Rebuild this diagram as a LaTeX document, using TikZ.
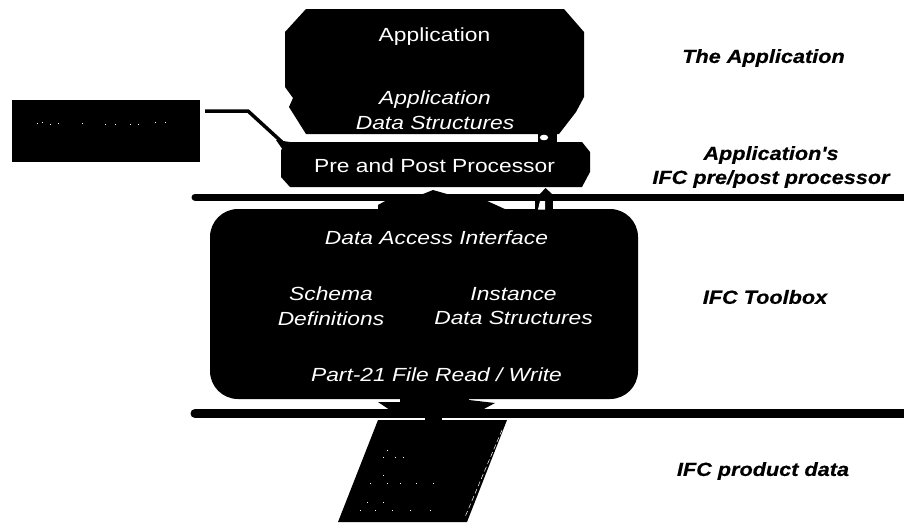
\documentclass[tikz,border=0pt]{standalone}
\usepackage{fontspec}
\setmainfont{Liberation Sans}
\newfontfamily\widefont[FakeStretch=1.2]{Liberation Sans}
\newfontfamily\sidefont[FakeStretch=1.14,BoldItalicFeatures={FakeBold=0.5}]{Liberation Sans}
\usetikzlibrary{calc}
\tikzset{
 blk/.style={fill=black,draw=none},
 wlabel/.style={text=white,font=\fontsize{19}{24.5}\selectfont\widefont,align=center,inner sep=0pt},
 ilabel/.style={wlabel,font=\fontsize{19}{24.5}\selectfont\widefont\itshape},
 side/.style={text=black,font=\fontsize{19}{24}\selectfont\sidefont\bfseries\itshape,align=center,inner sep=0pt},
 baro/.style={line width=7pt,line cap=round,black},
 bart/.style={line width=9pt,line cap=round,black},
 conn/.style={line width=3.5pt,black},
 speck/.style={fill=white,draw=none},
}
\begin{document}
\begin{tikzpicture}[x=1pt,y=-1pt]
\useasboundingbox[fill=white] (0,0) rectangle (904,523);
% bars
\coordinate (b1l) at (195,197); \coordinate (b1r) at (906,197);
\coordinate (b2l) at (195,413.5); \coordinate (b2r) at (906,413.5);
\draw[baro] (b1l) -- (b1r);
\draw[bart] (b2l) -- (b2r);
% application
\fill[blk] (306,9)--(564,9)--(584,32)--(584,97)--(576,112)--(559,134)--(306,134)--(289,107)--(293,98)--(285,87)--(285,32)--cycle;
\node[wlabel] (app) at (434.5,37) {Application};
\node[ilabel] (ads) at (435,110) {Application\\Data Structures};
% pre and post
\fill[blk] (290,142)--(582,142)--(590,152)--(590,172)--(582,187)--(290,187)--(281,177)--(281,150)--cycle;
\node[wlabel] (pret) at (434.5,166) {Pre and Post Processor};
\coordinate (pre) at (283,143);
% external box
\node[blk,minimum width=188pt,minimum height=62pt,inner sep=0pt] (ext) at (106,131) {};
% toolbox
\node[blk,rounded corners=28pt,minimum width=428pt,minimum height=190pt,inner sep=0pt] (tool) at (424,304) {};
\node[ilabel] (dai) at (436.5,238) {Data Access Interface};
\node[ilabel] (schema) at (331,306) {Schema\\Definitions};
\node[ilabel] (inst) at (513.5,306) {Instance\\Data Structures};
\node[ilabel] (part) at (436.5,375) {Part-21 File Read / Write};
% file
\fill[blk] (378,420)--(507,420)--(467,522)--(338,522)--cycle;
\draw[white,line width=0.5pt,dash pattern=on 5pt off 3pt] (502,430)--(465,517);
% connectors
\coordinate (cs) at (205,111);
\coordinate (cb) at (248,111);
\draw[conn] (cs) -- (cb) -- (pre);
\fill[blk] (276,140)--(290,142)--(283,150)--cycle;
% app to pre
\fill[blk] (538,133)--(557,133)--(557,143)--(538,143)--cycle;
\fill[white] (544,137.5) ellipse [x radius=4.2pt,y radius=2.8pt];
% pre to tool, right
\fill[blk] (545.5,188)--(552,194)--(540,194)--cycle;
\fill[blk] (535,200)--(553,200)--(553,210)--(535,210)--cycle;
\fill[white] (538,209.5)--(545,209.5)--(545,201)--(540,201)--cycle;
% pre to tool, block arrow
\fill[blk] (433,190)--(447,194)--(423,194)--cycle;
\fill[blk] (387,200)--(485,200)--(507,210)--(378,210)--(378,205)--cycle;
% tool to file
\fill[blk] (400,398)--(469,398)--(469,400)--(495,403)--(482,410)--(390,410)--(378,402)--(400,402)--cycle;
\fill[blk] (425,417)--(442,417)--(442,421)--(425,421)--cycle;
% side labels
\node[side] (s1) at (763.5,58) {The Application};
\node[side] (s2) at (771,167) {Application's\\IFC pre/post processor};
\node[side] (s3) at (765,297) {IFC Toolbox};
\node[side] (s4) at (763,471) {IFC product data};
% specks
\foreach \a/\b in {37/123,42/122,50/124,58/123,82/123,105/124,115/124,130/124,138/124,155/122,165/122,
 387/450,383/457,395/457,403/457,383/475,370/483,387/483,400/483,416/483,433/483,367/502,383/502,360/510,375/510,392/510,410/510,430/510}
 \fill[speck] (\a,\b) rectangle ++(1.4,1.4);
\end{tikzpicture}
\end{document}
